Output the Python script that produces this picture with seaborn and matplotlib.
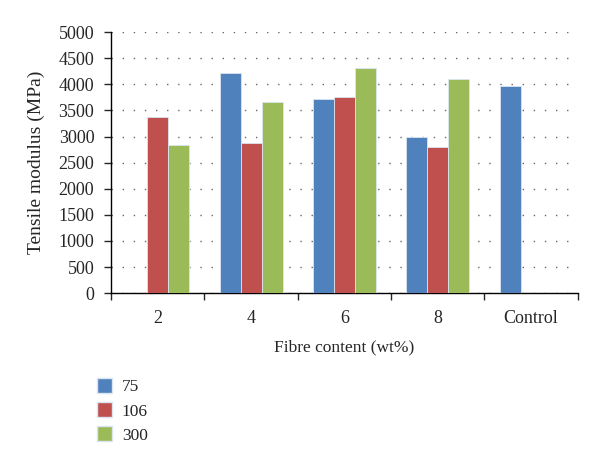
import numpy as np
import pandas as pd
import matplotlib
matplotlib.use("Agg")
import matplotlib.pyplot as plt
import seaborn as sns
from matplotlib.patches import Patch

# data
categories = ["2", "4", "6", "8", "Control"]
series_names = ["75", "106", "300"]
vals_75 = [np.nan, 4215, 3710, 2990, 3970]
vals_106 = [3375, 2880, 3760, 2790, np.nan]
vals_300 = [2830, 3660, 4305, 4100, np.nan]
colors = ["#4F81BD", "#C0504D", "#9BBB59"]

df = pd.DataFrame({
    "content": categories * 3,
    "size": [s for s in series_names for _ in categories],
    "modulus": vals_75 + vals_106 + vals_300,
})

sns.set_style("white")
plt.rcParams["font.family"] = ["Liberation Serif", "DejaVu Serif"]

fig = plt.figure(figsize=(6, 4.66), dpi=100)
ax = fig.add_axes([0.185, 0.371, 0.778, 0.56])

sns.barplot(data=df, x="content", y="modulus", hue="size",
            order=categories, hue_order=series_names, palette=colors,
            width=0.675, edgecolor="#dbe5f1", linewidth=0.6,
            saturation=1, errorbar=None, legend=False, ax=ax, zorder=3)

ax.set_xlim(-0.5, 4.5)
ax.set_ylim(0, 5000)
ax.set_yticks(np.arange(0, 5001, 500))
ax.yaxis.grid(True, linestyle=(0, (1, 7)), color="#666666", linewidth=1.0)
ax.set_axisbelow(True)

for s in ["top", "right"]:
    ax.spines[s].set_visible(False)
for s in ["left", "bottom"]:
    ax.spines[s].set_color("black")
    ax.spines[s].set_linewidth(1.0)

# category ticks sit between groups
ax.set_xticks(np.arange(-0.5, 4.6, 1.0), minor=True)
ax.tick_params(axis="x", which="major", length=0, labelsize=13, pad=12)
ax.tick_params(axis="x", which="minor", length=5, width=1, direction="out", bottom=True)
ax.tick_params(axis="y", length=5, width=1, direction="out", left=True, labelsize=13, pad=7)

ax.set_xlabel("Fibre content (wt%)", fontsize=12.5, labelpad=9)
ax.set_ylabel("Tensile modulus (MPa)", fontsize=14, labelpad=10)

handles = [Patch(facecolor=c, edgecolor="#dbe5f1") for c in colors]
fig.legend(handles, series_names, loc="upper left", bbox_to_anchor=(0.135, 0.222),
           frameon=False, fontsize=12.5, handlelength=0.9, handleheight=0.9,
           labelspacing=0.4, handletextpad=0.55)

fig.savefig("out.png", dpi=100)
